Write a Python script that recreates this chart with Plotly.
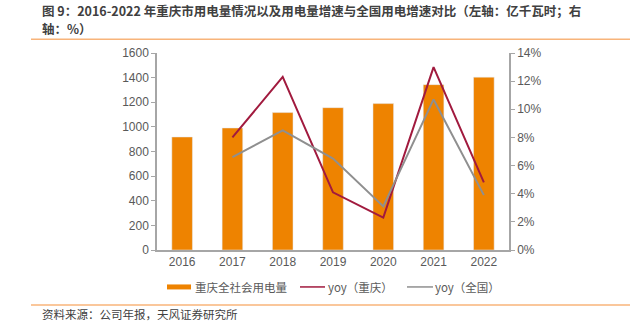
import plotly.graph_objects as go

# Data
years = ["2016", "2017", "2018", "2019", "2020", "2021", "2022"]
consumption = [918, 991, 1116, 1156, 1189, 1343, 1404]          # 亿千瓦时
yoy_cq = [None, 8.0, 12.3, 4.1, 2.3, 13.0, 4.8]                  # %
yoy_cn = [None, 6.6, 8.5, 6.5, 3.1, 10.7, 3.9]                   # %

W, H = 640, 321
L, R, T, B = 157, 509, 52.7, 250   # plot area in pixels

ORANGE = "#EE8300"
RED = "#A11A3E"
GREY = "#8F8F8F"
AXIS = "#A6A6A6"
TXT = "#595959"
CJK = "Noto Sans CJK SC"
LAT = "Liberation Sans"


def px(x):
    return (x - L) / (R - L)


def py(y):
    return (B - y) / (B - T)


fig = go.Figure()
fig.add_bar(x=years, y=consumption, marker_color=ORANGE, width=0.41,
            name="重庆全社会用电量", yaxis="y")
fig.add_scatter(x=years, y=yoy_cq, mode="lines", line=dict(color=RED, width=2),
                name="yoy（重庆）", yaxis="y2")
fig.add_scatter(x=years, y=yoy_cn, mode="lines", line=dict(color=GREY, width=2),
                name="yoy（全国）", yaxis="y2")

shapes = [
    # separator rules
    dict(type="line", xref="paper", yref="paper", x0=px(31), x1=px(630),
         y0=py(39), y1=py(39), line=dict(color="#F8B47A", width=1.5)),
    dict(type="line", xref="paper", yref="paper", x0=px(31), x1=px(630),
         y0=py(305), y1=py(305), line=dict(color="#F8B47A", width=1.5)),
    # legend swatches
    dict(type="rect", xref="paper", yref="paper", x0=px(167), x1=px(191),
         y0=py(289.5), y1=py(284.5), fillcolor=ORANGE, line=dict(width=0)),
    dict(type="line", xref="paper", yref="paper", x0=px(300), x1=px(325),
         y0=py(287), y1=py(287), line=dict(color=RED, width=1.5)),
    dict(type="line", xref="paper", yref="paper", x0=px(407), x1=px(433),
         y0=py(287), y1=py(287), line=dict(color=GREY, width=1.5)),
]

title_font = dict(family=CJK, size=12.5, color="#404040")
annotations = [
    dict(xref="paper", yref="paper", x=px(40), y=py(10), xanchor="left", yanchor="middle",
         showarrow=False,
         text="<b>图 9：2016-2022 年重庆市用电量情况以及用电量增速与全国用电增速对比（左轴：亿千瓦时；右</b>",
         font=title_font),
    dict(xref="paper", yref="paper", x=px(40), y=py(28), xanchor="left", yanchor="middle",
         showarrow=False, text="<b>轴：%）</b>", font=title_font),
    dict(xref="paper", yref="paper", x=px(40), y=py(314), xanchor="left", yanchor="middle",
         showarrow=False, text="资料来源：公司年报，天风证券研究所",
         font=dict(family=CJK, size=11.5, color="#404040")),
    dict(xref="paper", yref="paper", x=px(193), y=py(287), xanchor="left", yanchor="middle",
         showarrow=False, text="重庆全社会用电量", font=dict(family=CJK, size=11.5, color=TXT)),
    dict(xref="paper", yref="paper", x=px(326), y=py(287), xanchor="left", yanchor="middle",
         showarrow=False, text="yoy（重庆）", font=dict(family=CJK, size=11.5, color=TXT)),
    dict(xref="paper", yref="paper", x=px(433), y=py(287), xanchor="left", yanchor="middle",
         showarrow=False, text="yoy（全国）", font=dict(family=CJK, size=11.5, color=TXT)),
]

fig.update_layout(
    width=W, height=H,
    margin=dict(l=L, r=W - R, t=T, b=H - B, pad=0),
    paper_bgcolor="white", plot_bgcolor="white",
    showlegend=False,
    bargap=0.59,
    font=dict(family=LAT, size=12, color=TXT),
    xaxis=dict(showline=True, linecolor=AXIS, linewidth=1.5, ticks="", showgrid=False,
               tickfont=dict(family=LAT, size=12, color=TXT)),
    yaxis=dict(range=[0, 1600], dtick=200, showline=True, linecolor=AXIS, linewidth=1.5,
               ticks="outside", ticklen=4, tickcolor=AXIS, showgrid=False, zeroline=False,
               tickfont=dict(family=LAT, size=12, color=TXT)),
    yaxis2=dict(range=[0, 14], dtick=2, ticksuffix="%", overlaying="y", side="right",
                showline=True, linecolor=AXIS, linewidth=1.5, ticks="outside", ticklen=4,
                tickcolor=AXIS, showgrid=False, zeroline=False,
                tickfont=dict(family=LAT, size=12, color=TXT)),
    shapes=shapes,
    annotations=annotations,
)

fig.write_html("out.html")
